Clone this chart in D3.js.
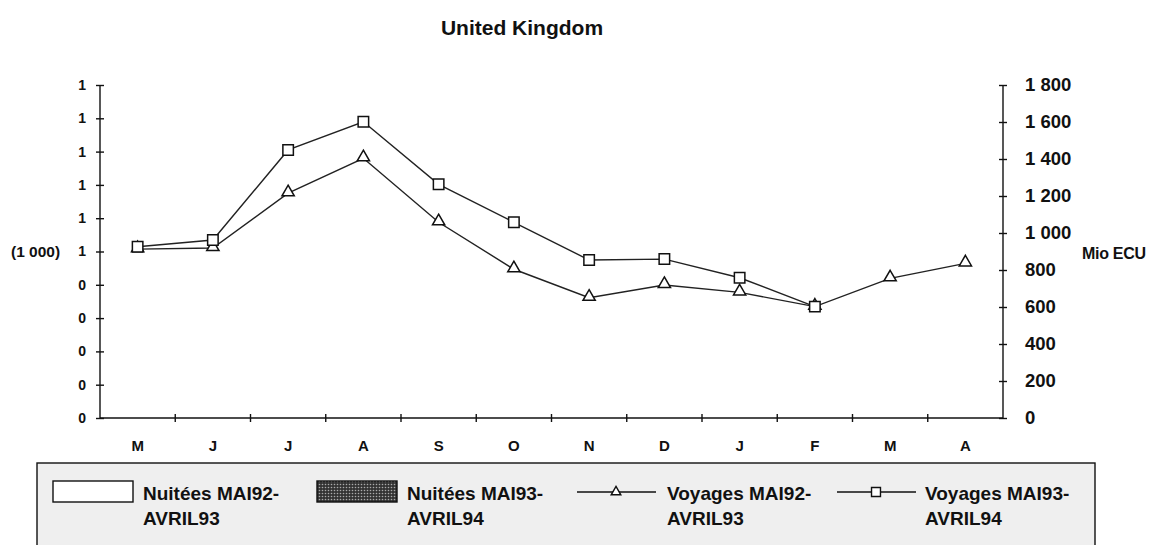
<!DOCTYPE html>
<html>
<head>
<meta charset="utf-8">
<script src="https://cdn.jsdelivr.net/npm/d3@7"></script>
<style>
  body { margin: 0; background: #fff; }
  text { font-family: "Liberation Sans", Arial, sans-serif; fill: #111; }
  .axis path, .axis line { stroke: #111; stroke-width: 1.4; }
</style>
</head>
<body>
<div id="chart"></div>
<script>
// months May 92 .. April 93
var months = ["M", "J", "J", "A", "S", "O", "N", "D", "J", "F", "M", "A"];
// Voyages, Mio ECU (right axis)
var voyages9293 = [913, 919, 1215, 1404, 1058, 804, 650, 719, 679, 602, 755, 836];
var voyages9394 = [926, 962, 1449, 1601, 1263, 1058, 854, 859, 758, 602, null, null];
// left axis labels (1 000), as printed
var leftTicks = ["0", "0", "0", "0", "0", "1", "1", "1", "1", "1", "1"];
var rightTicks = [0, 200, 400, 600, 800, 1000, 1200, 1400, 1600, 1800];
var legendItems = [
  {label: ["Nuitées MAI92-", "AVRIL93"], kind: "rectWhite"},
  {label: ["Nuitées MAI93-", "AVRIL94"], kind: "rectDark"},
  {label: ["Voyages MAI92-", "AVRIL93"], kind: "tri"},
  {label: ["Voyages MAI93-", "AVRIL94"], kind: "sq"}
];

var width = 1155, height = 545;
var margin = {top: 85, right: 152, bottom: 127, left: 100};

var svg = d3.select("#chart").append("svg")
    .attr("width", width)
    .attr("height", height);

var defs = svg.append("defs");
var pat = defs.append("pattern")
    .attr("id", "dots")
    .attr("width", 3).attr("height", 3)
    .attr("patternUnits", "userSpaceOnUse");
pat.append("rect").attr("width", 3).attr("height", 3).attr("fill", "#333");
pat.append("circle").attr("cx", 1.5).attr("cy", 1.5).attr("r", 0.8).attr("fill", "#aaa");

svg.append("text")
    .attr("x", 522)
    .attr("y", 35)
    .attr("text-anchor", "middle")
    .style("font-size", "21px")
    .style("font-weight", "bold")
    .text("United Kingdom");

var x = d3.scaleBand()
    .domain(d3.range(months.length))
    .range([margin.left, width - margin.right]);

var yR = d3.scaleLinear()
    .domain([0, 1800])
    .range([height - margin.bottom, margin.top]);

var yL = d3.scaleLinear()
    .domain([0, leftTicks.length - 1])
    .range([height - margin.bottom, margin.top]);

// left axis
var gl = svg.append("g")
    .attr("class", "axis")
    .attr("transform", "translate(" + margin.left + ",0)")
    .call(d3.axisLeft(yL)
      .tickValues(d3.range(leftTicks.length))
      .tickSize(0)
      .tickPadding(14)
      .tickFormat(function(d) { return leftTicks[d]; }));
gl.select(".domain").attr("d", "M0," + yL(0) + "V" + yL(leftTicks.length - 1));
gl.selectAll(".tick").append("line").attr("x1", -4).attr("x2", 4);
gl.selectAll(".tick text").style("font-size", "14px").style("font-weight", "bold");

// right axis
var gr = svg.append("g")
    .attr("class", "axis")
    .attr("transform", "translate(" + (width - margin.right) + ",0)")
    .call(d3.axisRight(yR)
      .tickValues(rightTicks)
      .tickSize(0)
      .tickPadding(22)
      .tickFormat(function(d) { return d3.format(",")(d).replace(",", " "); }));
gr.select(".domain").attr("d", "M0," + yR(0) + "V" + yR(1800));
gr.selectAll(".tick").append("line").attr("x1", -4).attr("x2", 4);
gr.selectAll(".tick text").style("font-size", "18.5px").style("font-weight", "bold");

// x axis
var gx = svg.append("g")
    .attr("class", "axis")
    .attr("transform", "translate(0," + yR(0) + ")")
    .call(d3.axisBottom(x)
      .tickSize(0)
      .tickPadding(22)
      .tickFormat(function(i) { return months[i]; }));
gx.select(".domain").attr("d", "M" + margin.left + ",0H" + (width - margin.right));
gx.selectAll(".tick text").style("font-size", "15px").style("font-weight", "bold");
gx.append("g").selectAll("line")
    .data(d3.range(1, months.length))
    .enter().append("line")
    .attr("x1", function(i) { return x(i); })
    .attr("x2", function(i) { return x(i); })
    .attr("y1", -4).attr("y2", 4);

svg.append("text")
    .attr("x", 11).attr("y", yL(5) + 5)
    .style("font-size", "15.5px").style("font-weight", "bold")
    .text("(1 000)");

svg.append("text")
    .attr("x", 1082).attr("y", yL(5) + 7)
    .style("font-size", "16px").style("font-weight", "bold")
    .style("letter-spacing", "-0.3px")
    .text("Mio ECU");

// lines
var cx = function(d, i) { return x(i) + x.bandwidth() / 2; };
var line = d3.line()
    .defined(function(d) { return d != null; })
    .x(cx)
    .y(function(d) { return yR(d); });

svg.append("path").datum(voyages9293)
    .attr("d", line).attr("fill", "none").attr("stroke", "#222").attr("stroke-width", 1.4);
svg.append("path").datum(voyages9394)
    .attr("d", line).attr("fill", "none").attr("stroke", "#222").attr("stroke-width", 1.4);

var tri = d3.symbol().type(d3.symbolTriangle).size(65);
var sq = d3.symbol().type(d3.symbolSquare).size(110);

svg.append("g").selectAll("path")
    .data(voyages9293)
    .enter().append("path")
    .attr("d", tri)
    .attr("transform", function(d, i) { return "translate(" + cx(d, i) + "," + (yR(d) - 1) + ")"; })
    .attr("fill", "#fff").attr("stroke", "#111").attr("stroke-width", 1.5);

svg.append("g").selectAll("path")
    .data(voyages9394.filter(function(d) { return d != null; }))
    .enter().append("path")
    .attr("d", sq)
    .attr("transform", function(d, i) { return "translate(" + cx(d, i) + "," + yR(d) + ")"; })
    .attr("fill", "#fff").attr("stroke", "#111").attr("stroke-width", 1.5);

// legend
var lg = svg.append("g");
lg.append("rect")
    .attr("x", 37).attr("y", 463)
    .attr("width", 1058).attr("height", 120)
    .attr("fill", "#efefef").attr("stroke", "#111").attr("stroke-width", 1.4);

var legX = [53, 317, 577, 837];
var textX = [143, 407, 667, 925];
var item = lg.selectAll(".item")
    .data(legendItems)
    .enter().append("g")
    .attr("class", "item");

item.each(function(d, i) {
  var g = d3.select(this);
  if (d.kind === "rectWhite" || d.kind === "rectDark") {
    g.append("rect")
      .attr("x", legX[i]).attr("y", 481)
      .attr("width", 80).attr("height", 21)
      .attr("fill", d.kind === "rectWhite" ? "#fff" : "url(#dots)")
      .attr("stroke", "#111").attr("stroke-width", 1.4);
  } else {
    g.append("line")
      .attr("x1", legX[i]).attr("x2", legX[i] + 79)
      .attr("y1", 492).attr("y2", 492)
      .attr("stroke", "#111").attr("stroke-width", 1.4);
    g.append("path")
      .attr("d", d.kind === "tri" ? d3.symbol().type(d3.symbolTriangle).size(40) : d3.symbol().type(d3.symbolSquare).size(80))
      .attr("transform", "translate(" + (legX[i] + 39) + ",492)")
      .attr("fill", "#fff").attr("stroke", "#111").attr("stroke-width", 1.4);
  }
  var t = g.append("text")
    .attr("x", textX[i]).attr("y", 500)
    .style("font-size", "19px")
    .style("font-weight", "bold");
  t.append("tspan").text(d.label[0]);
  t.append("tspan").attr("x", textX[i]).attr("dy", 25).text(d.label[1]);
});
</script>
</body>
</html>
